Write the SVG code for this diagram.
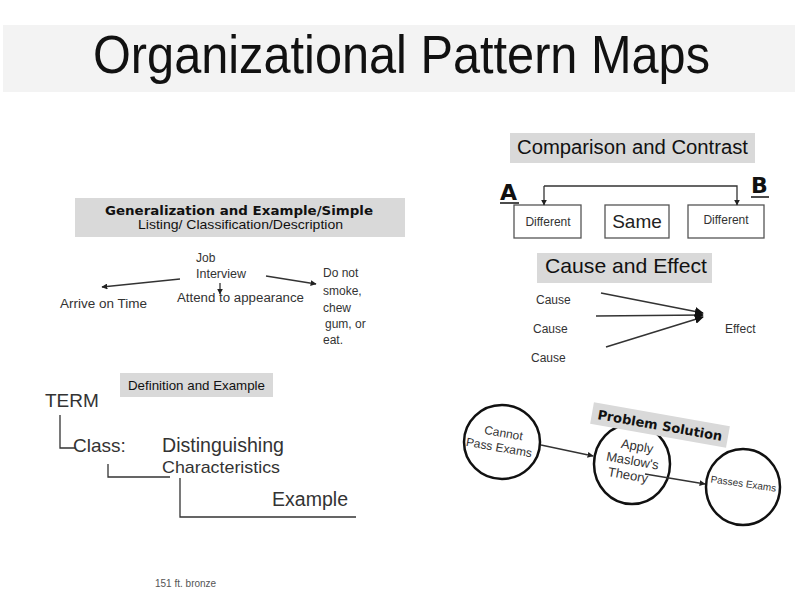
<svg xmlns="http://www.w3.org/2000/svg" width="800" height="599" viewBox="0 0 800 599">
<defs>
<marker id="ah" viewBox="0 0 10 10" refX="9" refY="5" markerWidth="6" markerHeight="6" orient="auto" markerUnits="userSpaceOnUse"><path d="M0,0 L10,5 L0,10 z" fill="#222"/></marker>
<marker id="ahb" viewBox="0 0 10 10" refX="9" refY="5" markerWidth="9" markerHeight="9" orient="auto" markerUnits="userSpaceOnUse"><path d="M0,0 L10,5 L0,10 z" fill="#111"/></marker>
</defs>
<style>
.t{font-family:"Liberation Sans","DejaVu Sans",sans-serif;fill:#333}
.h{font-family:"DejaVu Sans","Liberation Sans",sans-serif;font-weight:bold;fill:#111}
.band{fill:#d9d9d9}
.ln{stroke:#333;stroke-width:1.3;fill:none}
.box{fill:#fff;stroke:#555;stroke-width:1.3}
.circ{fill:#fff;stroke:#111;stroke-width:2.5}
</style>
<rect width="800" height="599" fill="#fff"/>
<g id="title">
<rect x="3" y="25" width="792" height="67" fill="#f3f3f3"/>
<text class="t" x="93" y="73" font-size="54" textLength="617" lengthAdjust="spacingAndGlyphs" style="fill:#111">Organizational Pattern Maps</text>
</g>
<g id="generalization">
<rect class="band" x="75" y="198" width="330" height="39"/>
<text class="h" x="105" y="215" font-size="13" textLength="268" lengthAdjust="spacingAndGlyphs">Generalization and Example/Simple</text>
<text class="t" x="138" y="229" font-size="13" textLength="205" lengthAdjust="spacingAndGlyphs" style="fill:#111">Listing/ Classification/Description</text>
</g>
<g id="job-interview">
<text class="t" x="196" y="262" font-size="12">Job</text>
<text class="t" x="196" y="278" font-size="12" textLength="50" lengthAdjust="spacingAndGlyphs">Interview</text>
</g>
<g id="arrive"><text class="t" x="60" y="308" font-size="12" textLength="87" lengthAdjust="spacingAndGlyphs">Arrive on Time</text></g>
<g id="attend"><text class="t" x="177" y="302" font-size="12" textLength="127" lengthAdjust="spacingAndGlyphs">Attend to appearance</text></g>
<g id="donot">
<text class="t" x="323" y="277" font-size="12">Do not</text>
<text class="t" x="323" y="295" font-size="12">smoke,</text>
<text class="t" x="323" y="312" font-size="12">chew</text>
<text class="t" x="325" y="328" font-size="12">gum, or</text>
<text class="t" x="323" y="344" font-size="12">eat.</text>
</g>
<g id="comparison">
<rect class="band" x="510" y="133" width="245" height="30"/>
<text class="t" x="517" y="154" font-size="20" textLength="231" lengthAdjust="spacingAndGlyphs" style="fill:#111">Comparison and Contrast</text>
<text class="h" x="500" y="200" font-size="22">A</text>
<line x1="500" y1="203" x2="519" y2="203" stroke="#111" stroke-width="1.5"/>
<text class="h" x="751" y="193" font-size="22">B</text>
<line x1="751" y1="197" x2="769" y2="197" stroke="#111" stroke-width="1.5"/>
</g>
<g id="different-a"><rect class="box" x="514" y="205" width="67" height="33"/><text class="t" x="548" y="226" font-size="12" text-anchor="middle">Different</text></g>
<g id="same"><rect class="box" x="605" y="205" width="64" height="33"/><text class="t" x="637" y="228" font-size="19" text-anchor="middle" style="fill:#222">Same</text></g>
<g id="different-b"><rect class="box" x="688" y="205" width="76" height="33"/><text class="t" x="726" y="224" font-size="12" text-anchor="middle">Different</text></g>
<g id="cause-effect">
<rect class="band" x="537" y="253" width="175" height="30"/>
<text class="t" x="545" y="273" font-size="21" textLength="162" lengthAdjust="spacingAndGlyphs" style="fill:#111">Cause and Effect</text>
<text class="t" x="536" y="304" font-size="12">Cause</text>
<text class="t" x="533" y="333" font-size="12">Cause</text>
<text class="t" x="531" y="362" font-size="12">Cause</text>
<text class="t" x="725" y="333" font-size="12">Effect</text>
</g>
<g id="definition">
<rect class="band" x="120" y="373" width="153" height="24"/>
<text class="t" x="128" y="390" font-size="13" textLength="137" lengthAdjust="spacingAndGlyphs" style="fill:#111">Definition and Example</text>
<text class="t" x="45" y="407" font-size="19">TERM</text>
<text class="t" x="73" y="452" font-size="19">Class:</text>
<text class="t" x="162" y="452" font-size="20" textLength="122" lengthAdjust="spacingAndGlyphs">Distinguishing</text>
<text class="t" x="162" y="473" font-size="17" textLength="118" lengthAdjust="spacingAndGlyphs">Characteristics</text>
<text class="t" x="272" y="506" font-size="20" textLength="76" lengthAdjust="spacingAndGlyphs">Example</text>
</g>
<g id="cannot-pass">
<ellipse class="circ" cx="502" cy="442" rx="38" ry="37"/>
<g transform="rotate(10 502 442)">
<text class="t" x="502" y="437" font-size="12" text-anchor="middle">Cannot</text>
<text class="t" x="500" y="452" font-size="12" text-anchor="middle">Pass Exams</text>
</g>
</g>
<g id="apply-maslow">
<ellipse class="circ" cx="632" cy="464" rx="38" ry="40"/>
<g transform="rotate(10 632 464)">
<text class="t" x="634" y="450" font-size="13" text-anchor="middle">Apply</text>
<text class="t" x="632" y="465" font-size="13" text-anchor="middle">Maslow's</text>
<text class="t" x="630" y="480" font-size="13" text-anchor="middle">Theory</text>
</g>
</g>
<g id="passes-exams">
<ellipse class="circ" cx="743" cy="487" rx="37" ry="38"/>
<text class="t" x="743" y="487" font-size="10" text-anchor="middle" transform="rotate(8 743 487)">Passes Exams</text>
</g>
<g id="problem-solution">
<g transform="rotate(10 660 425)">
<rect class="band" x="591" y="414" width="138" height="22"/>
<text class="h" x="660" y="430" font-size="13" text-anchor="middle">Problem Solution</text>
</g>
</g>
<g id="footer"><text class="t" x="155" y="587" font-size="10" style="fill:#555">151 ft. bronze</text></g>
<g id="connectors" class="ln">
<line x1="180" y1="279" x2="102" y2="287" marker-end="url(#ah)"/>
<line x1="220" y1="283" x2="220" y2="294" marker-end="url(#ah)"/>
<line x1="266" y1="276" x2="316" y2="284" marker-end="url(#ah)"/>
<polyline points="544,186 737,186 737,205" marker-end="url(#ah)"/>
<line x1="544" y1="186" x2="544" y2="205" marker-end="url(#ah)"/>
<line x1="601" y1="293" x2="703" y2="313" stroke-width="1.6" marker-end="url(#ahb)"/>
<line x1="596" y1="316" x2="703" y2="315" stroke-width="1.6" marker-end="url(#ahb)"/>
<line x1="606" y1="347" x2="703" y2="317" stroke-width="1.6" marker-end="url(#ahb)"/>
<polyline points="60,415 60,448 75,448"/>
<polyline points="108,464 108,477 170,477"/>
<polyline points="180,478 180,517 356,517"/>
<line x1="541" y1="445" x2="593" y2="456" marker-end="url(#ah)"/>
<line x1="645" y1="474" x2="705" y2="484" marker-end="url(#ah)"/>
</g>
</svg>
